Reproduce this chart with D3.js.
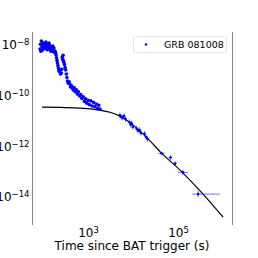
<!DOCTYPE html>
<html>
<head>
<meta charset="utf-8">
<script src="https://cdn.jsdelivr.net/npm/d3@7"></script>
<style>
  body { margin: 0; background: #fff; }
  svg { display: block; font-family: "DejaVu Sans", sans-serif; }
</style>
</head>
<body>
<svg id="chart" width="258" height="258"></svg>
<script>
// early light curve (no visible error bars): [time s, flux]
var earlyT = [86, 88, 90, 92, 95, 97, 100, 103, 106, 110, 113, 116, 120, 124, 128, 132, 136, 140, 145, 150,
    155, 160, 165, 170, 175, 180, 185, 190, 195, 200, 205, 210, 215, 220, 225, 230, 235, 245, 255, 262,
    268, 272, 276, 280, 285, 290, 300, 310, 320, 330, 340, 350, 365, 380, 395, 410, 430, 450, 470, 490,
    520, 550, 580, 610, 650, 690, 730, 780, 830, 880, 940, 1000, 1070, 1150, 1230, 1320, 1420, 1520, 1620, 1730, 1850];
var earlyF = [5.3e-9, 8.2e-9, 4.4e-9, 1.1e-8, 6.4e-9, 7.0e-9, 5.0e-9, 9.1e-9, 6.4e-9, 8.2e-9, 5.8e-9, 1.0e-8, 7.0e-9, 5.0e-9, 8.2e-9, 6.4e-9, 9.1e-9, 5.3e-9, 7.0e-9, 4.4e-9,
    6.4e-9, 5.0e-9, 7.0e-9, 4.2e-9, 5.8e-9, 4.0e-9, 4.4e-9, 3.7e-9, 3.1e-9, 2.4e-9, 1.9e-9, 1.5e-9, 1.2e-9, 9.5e-10, 7.9e-10, 6.9e-10, 8.0e-10, 5.5e-10, 6.0e-10, 8.5e-10,
    2.6e-9, 2.2e-9, 2.0e-9, 3.0e-9, 1.8e-9, 1.6e-9, 1.3e-9, 1.0e-9, 7.9e-10, 5.5e-10, 4.0e-10, 2.9e-10, 2.4e-10, 2.7e-10, 2.2e-10, 1.7e-10, 1.9e-10, 1.5e-10, 1.3e-10, 1.6e-10,
    1.1e-10, 1.3e-10, 9.0e-11, 1.1e-10, 7.5e-11, 8.5e-11, 6.0e-11, 7.0e-11, 4.6e-11, 5.8e-11, 3.9e-11, 5.0e-11, 3.4e-11, 4.8e-11, 3.0e-11, 4.2e-11, 2.8e-11, 3.6e-11, 2.4e-11, 3.2e-11, 2.3e-11];

// later points with error bars: [time, flux, tLow, tHigh, fLow, fHigh]
var lateT = [5100, 5500, 5900, 6300, 6800, 8300, 8800, 9300, 9900, 12000, 13000, 14000, 15000, 18000, 19500, 21000, 43000, 68000, 86000, 129000, 279000];
var lateF = [1.3e-11, 1.1e-11, 1.05e-11, 1.2e-11, 9.2e-12, 7.0e-12, 5.6e-12, 6.2e-12, 4.5e-12, 3.9e-12, 3.2e-12, 3.4e-12, 2.6e-12, 2.4e-12, 1.8e-12, 1.5e-12, 4.1e-13, 2.8e-13, 1.62e-13, 7.2e-14, 1.0e-14];
var lateTLo = [4900, 5300, 5700, 6100, 6600, 8000, 8500, 9000, 9600, 11600, 12600, 13600, 14500, 17400, 18900, 20300, 36000, 61000, 81000, 100000, 205000];
var lateTHi = [5300, 5700, 6100, 6500, 7000, 8600, 9100, 9600, 10200, 12400, 13400, 14400, 15500, 18600, 20100, 21700, 51400, 75000, 92000, 167000, 859000];
var lateFLo = [1.0e-11, 8.5e-12, 8.2e-12, 9.3e-12, 7.1e-12, 5.4e-12, 4.3e-12, 4.8e-12, 3.5e-12, 3.0e-12, 2.5e-12, 2.6e-12, 2.0e-12, 1.85e-12, 1.4e-12, 1.15e-12, 3.6e-13, 2.2e-13, 1.35e-13, 5.6e-14, 7.3e-15];
var lateFHi = [1.65e-11, 1.4e-11, 1.35e-11, 1.55e-11, 1.2e-11, 9.0e-12, 7.2e-12, 8.0e-12, 5.8e-12, 5.0e-12, 4.1e-12, 4.4e-12, 3.4e-12, 3.1e-12, 2.3e-12, 1.95e-12, 4.7e-13, 3.5e-13, 1.95e-13, 9.2e-14, 1.37e-14];

// fitted model curve
var modelT = [95, 239, 664, 1290, 3080, 5140, 8580, 14300, 23900, 39800, 111000, 360000, 1000000];
var modelF = [2.72e-11, 2.64e-11, 2.5e-11, 2.26e-11, 1.7e-11, 1.2e-11, 6.64e-12, 3.06e-12, 1.26e-12, 4.75e-13, 8.85e-14, 1.0e-14, 1.23e-15];

var yTicks = [1e-8, 1e-10, 1e-12, 1e-14];
var xTicks = [1e3, 1e5];
var legendLabel = "GRB 081008";
var xTitle = "Time since BAT trigger (s)";

var svg = d3.select("#chart");

var x = d3.scaleLog().domain([58.5, 1.62e6]).range([32.5, 232.5]);
var y = d3.scaleLog().domain([6.03e-16, 2.51e-8]).range([225, 32]);

// spines: only left and right are shown
svg.append("line").attr("x1", 32.5).attr("x2", 32.5).attr("y1", 32).attr("y2", 225)
    .attr("stroke", "#888").attr("stroke-width", 1);
svg.append("line").attr("x1", 232.5).attr("x2", 232.5).attr("y1", 32).attr("y2", 225)
    .attr("stroke", "#888").attr("stroke-width", 1);

function supLabel(sel, exp) {
    sel.text(null);
    sel.append("tspan").text("10");
    sel.append("tspan").attr("dy", "-0.45em").attr("font-size", "8.5px").text(exp);
}

var yAxis = svg.append("g").attr("transform", "translate(32.5,0)")
    .call(d3.axisLeft(y).tickValues(yTicks).tickSize(0).tickPadding(3));
yAxis.select(".domain").remove();
yAxis.selectAll("text").attr("font-size", "12px").attr("font-family", "DejaVu Sans")
    .attr("fill", "#000").attr("dy", "0.55em")
    .each(function(d) { supLabel(d3.select(this), "\u2212" + Math.round(-Math.log10(d))); });

var xAxis = svg.append("g").attr("transform", "translate(0,225)")
    .call(d3.axisBottom(x).tickValues(xTicks).tickSize(0).tickPadding(3));
xAxis.select(".domain").remove();
xAxis.selectAll("text").attr("font-size", "12px").attr("font-family", "DejaVu Sans")
    .attr("fill", "#000").attr("dy", "0.72em")
    .each(function(d) { supLabel(d3.select(this), String(Math.round(Math.log10(d)))); });

svg.append("text").attr("x", 132).attr("y", 249.5).attr("text-anchor", "middle")
    .attr("font-size", "12px").text(xTitle);

// model line
var model = modelT.map(function(t, i) { return [t, modelF[i]]; });
svg.append("path").datum(model)
    .attr("fill", "none").attr("stroke", "#000").attr("stroke-width", 1.2)
    .attr("d", d3.line().x(function(d) { return x(d[0]); }).y(function(d) { return y(d[1]); })
        .curve(d3.curveMonotoneX));

// error bars for the late points
var late = lateT.map(function(t, i) {
    return { t: t, f: lateF[i], tl: lateTLo[i], th: lateTHi[i], fl: lateFLo[i], fh: lateFHi[i] };
});
var eb = svg.append("g").attr("stroke", "blue").attr("stroke-opacity", 0.55).attr("stroke-width", 1);
eb.selectAll(".h").data(late).enter().append("line")
    .attr("x1", function(d) { return x(d.tl); }).attr("x2", function(d) { return x(d.th); })
    .attr("y1", function(d) { return y(d.f); }).attr("y2", function(d) { return y(d.f); });
eb.selectAll(".v").data(late).enter().append("line")
    .attr("x1", function(d) { return x(d.t); }).attr("x2", function(d) { return x(d.t); })
    .attr("y1", function(d) { return y(d.fl); }).attr("y2", function(d) { return y(d.fh); });

// data points
var early = earlyT.map(function(t, i) { return [t, earlyF[i]]; });
var pts = svg.append("g").attr("fill", "blue");
pts.selectAll(".e").data(early).enter().append("circle")
    .attr("cx", function(d) { return x(d[0]); }).attr("cy", function(d) { return y(d[1]); })
    .attr("r", 1.8);
pts.selectAll(".l").data(late).enter().append("circle")
    .attr("cx", function(d) { return x(d.t); }).attr("cy", function(d) { return y(d.f); })
    .attr("r", 1.3);

// legend
var lg = svg.append("g");
lg.append("rect").attr("x", 133.5).attr("y", 36.5).attr("width", 93).attr("height", 16)
    .attr("rx", 2).attr("fill", "#fff").attr("stroke", "#ddd").attr("stroke-width", 0.8);
lg.append("circle").attr("cx", 146).attr("cy", 44.5).attr("r", 1.2).attr("fill", "blue");
lg.append("text").attr("x", 164).attr("y", 48).attr("font-size", "9.5px").text(legendLabel);
</script>
</body>
</html>
